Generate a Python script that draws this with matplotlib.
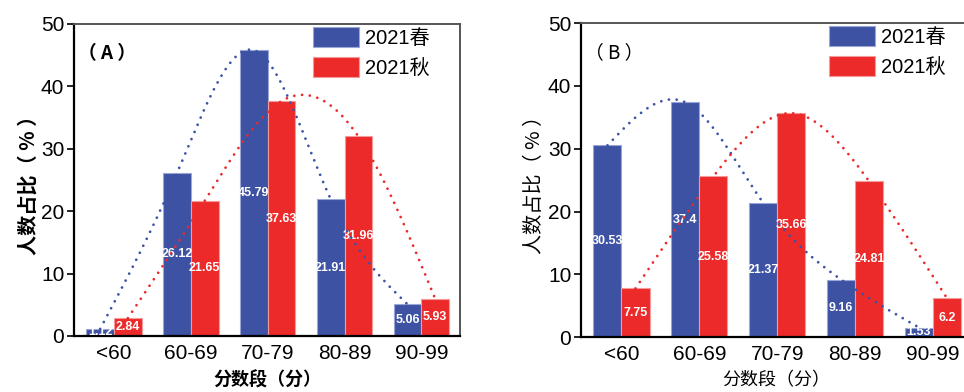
import numpy as np
import matplotlib
matplotlib.use("Agg")
import matplotlib.pyplot as plt

plt.rcParams["font.family"] = ["Liberation Sans", "Noto Sans CJK SC"]
plt.rcParams["axes.unicode_minus"] = False

# 数据
categories = ["<60", "60-69", "70-79", "80-89", "90-99"]
spring_a = [1.12, 26.12, 45.79, 21.91, 5.06]
autumn_a = [2.84, 21.65, 37.63, 31.96, 5.93]
spring_b = [30.53, 37.4, 21.37, 9.16, 1.53]
autumn_b = [7.75, 25.58, 35.66, 24.81, 6.2]
labels_a = ["1.12", "26.12", "45.79", "21.91", "5.06"], ["2.84", "21.65", "37.63", "31.96", "5.93"]
labels_b = ["30.53", "37.4", "21.37", "9.16", "1.53"], ["7.75", "25.58", "35.66", "24.81", "6.2"]

BLUE = "#3D52A3"
RED = "#EC2A2A"
CJK = ["Noto Sans CJK SC", "DejaVu Sans"]


def natural_spline(x, y, xs):
    # 自然三次样条，画拟合的虚线
    x = np.asarray(x, float)
    y = np.asarray(y, float)
    n = len(x)
    h = np.diff(x)
    A = np.zeros((n, n))
    b = np.zeros(n)
    A[0, 0] = A[-1, -1] = 1
    for i in range(1, n - 1):
        A[i, i - 1] = h[i - 1]
        A[i, i] = 2 * (h[i - 1] + h[i])
        A[i, i + 1] = h[i]
        b[i] = 6 * ((y[i + 1] - y[i]) / h[i] - (y[i] - y[i - 1]) / h[i - 1])
    M = np.linalg.solve(A, b)
    idx = np.clip(np.searchsorted(x, xs) - 1, 0, n - 2)
    hi = h[idx]
    t0 = x[idx + 1] - xs
    t1 = xs - x[idx]
    return (M[idx] * t0 ** 3 / (6 * hi) + M[idx + 1] * t1 ** 3 / (6 * hi)
            + (y[idx] / hi - M[idx] * hi / 6) * t0
            + (y[idx + 1] / hi - M[idx + 1] * hi / 6) * t1)


def draw_panel(ax, spring, autumn, labels, tag, bold, leg_x):
    w = 0.36
    x = np.arange(len(categories))
    b1 = ax.bar(x, spring, width=-w, align="edge", color=BLUE,
                edgecolor="#9aa6d6", linewidth=0.8, label="2021春", zorder=2)
    b2 = ax.bar(x, autumn, width=w, align="edge", color=RED,
                edgecolor="#f49a9a", linewidth=0.8, label="2021秋", zorder=2)
    ax.bar_label(b1, labels=labels[0], label_type="center", color="white",
                 fontsize=9, fontweight="bold")
    ax.bar_label(b2, labels=labels[1], label_type="center", color="white",
                 fontsize=9, fontweight="bold")

    for vals, col, off in [(spring, BLUE, -w / 2), (autumn, RED, w / 2)]:
        xp = x + off
        xs = np.linspace(xp[0], xp[-1], 300)
        ax.plot(xs, natural_spline(xp, vals, xs), color=col, lw=2.0,
                linestyle=(0, (0.01, 2.8)), dash_capstyle="round", zorder=3)

    ax.set_xlim(-0.52, 4.5)
    ax.set_ylim(0, 50)
    ax.set_yticks(range(0, 51, 10))
    ax.set_xticks(x)
    ax.set_xticklabels(categories)
    ax.tick_params(axis="y", direction="out", length=5, width=1.2, labelsize=15, pad=2)
    ax.tick_params(axis="x", direction="in", length=5, width=1.2, labelsize=15, pad=6)
    for s in ["left", "bottom"]:
        ax.spines[s].set_linewidth(1.6)
        ax.spines[s].set_color("black")
    for s in ["top", "right"]:
        ax.spines[s].set_linewidth(1.4)
        ax.spines[s].set_color("#555555")

    fw = "bold" if bold else "normal"
    ax.set_ylabel("人数占比（ % ）", fontsize=14.5, fontweight=fw, labelpad=2, family=CJK)
    ax.set_xlabel("分数段（分）", fontsize=13, fontweight=fw, labelpad=5, family=CJK)
    ax.text(0.01, 0.905, "（ " + tag + " ）", transform=ax.transAxes, fontsize=13.5,
            fontweight=fw, va="center", ha="left", family=CJK)
    ax.legend(loc="upper right", frameon=False, fontsize=14.5,
              handlelength=2.3, handleheight=1.15, labelspacing=0.45,
              handletextpad=0.3, borderaxespad=0, borderpad=0,
              bbox_to_anchor=(leg_x, 0.99))


fig = plt.figure(figsize=(9.64, 3.92), dpi=100)
ax1 = fig.add_axes([0.0768, 0.143, 0.4002, 0.796])
ax2 = fig.add_axes([0.6027, 0.140, 0.4055, 0.801])

draw_panel(ax1, spring_a, autumn_a, labels_a, "A", True, 0.922)
draw_panel(ax2, spring_b, autumn_b, labels_b, "B", False, 0.934)

fig.savefig("out.png", dpi=100)
